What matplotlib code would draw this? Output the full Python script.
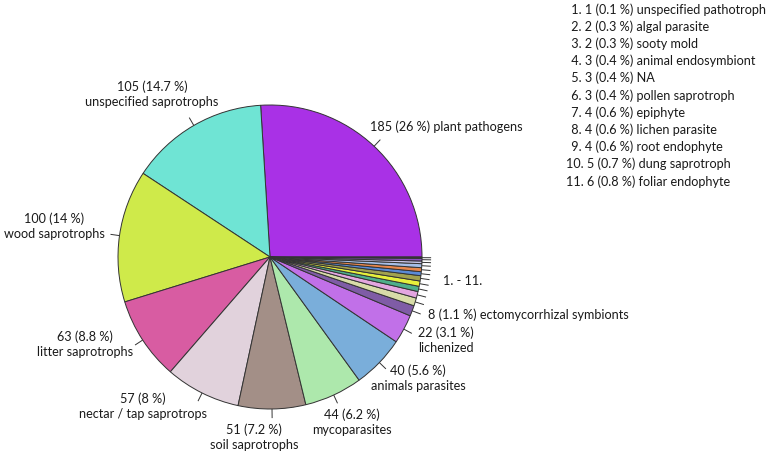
import matplotlib
matplotlib.use("Agg")
import matplotlib.pyplot as plt
import numpy as np

# ---------------- data ----------------
categories = ["plant pathogens", "unspecified saprotrophs", "wood saprotrophs",
              "litter saprotrophs", "nectar / tap saprotrops", "soil saprotrophs",
              "mycoparasites", "animals parasites", "lichenized",
              "ectomycorrhizal symbionts",
              "foliar endophyte", "dung saprotroph", "root endophyte",
              "lichen parasite", "epiphyte", "pollen saprotroph", "NA",
              "animal endosymbiont", "sooty mold", "algal parasite",
              "unspecified pathotroph"]
counts = [185, 105, 100, 63, 57, 51, 44, 40, 22, 8,
          6, 5, 4, 4, 4, 3, 3, 3, 2, 2, 1]
colors = ["#A931E6", "#6FE4D4", "#CFEA4A", "#D85CA2", "#E1D2DC", "#A38F87",
          "#ADE8AC", "#7AAEDA", "#C170E8", "#7F5CA6",
          "#D8DCA8", "#E3A6E0", "#4EAF8A", "#E6F03C", "#A2A24E", "#5A8BD6",
          "#E8874C", "#A6BEE6", "#C8C4E8", "#8A4FC0", "#3A3A3A"]
n_main = 10  # first ten categories labelled on the pie

# ---------------- layout ----------------
W, H = 767, 456
CX, CY, R = 270, 258, 152          # pixel coords of pie
FONT = "Lato"

# label block positions (pixel coords) for the main labels: (x, y, ha)
label_pos = [(370, 127, "left"), (152, 94.5, "center"), (54, 226.5, "center"),
             (85, 344.5, "center"), (143, 406, "center"), (254, 437.5, "center"),
             (352, 422.5, "center"), (418, 378.5, "center"), (446, 340, "center"),
             (428, 315, "left")]
small_label_pos = (443, 281)
legend_x, legend_y0, legend_dy = 568, 9.3, 17.2
line_gap_px = 16.5

fig = plt.figure(figsize=(W / 100, H / 100), dpi=100)
ax = fig.add_axes([0, 0, 1, 1])

def py(y):
    return H - y

total = sum(counts)
pct = [round(100 * c / total, 1) for c in counts]
def fmt(p):
    return f"{p:g}"

wedges, _ = ax.pie(counts, colors=colors, startangle=0, counterclock=True,
                   radius=R, center=(CX, py(CY)),
                   wedgeprops=dict(edgecolor="#333333", linewidth=0.7))
ax.set_xlim(0, W)
ax.set_ylim(0, H)
ax.set_aspect("equal")
ax.axis("off")

# leader ticks
for w in wedges:
    mid = np.deg2rad((w.theta1 + w.theta2) / 2)
    x0, y0 = CX + R * np.cos(mid), py(CY) + R * np.sin(mid)
    x1, y1 = CX + 1.06 * R * np.cos(mid), py(CY) + 1.06 * R * np.sin(mid)
    ax.plot([x0, x1], [y0, y1], color="#333333", lw=0.7, solid_capstyle="butt")

# font size fitted to reference width of the ectomycorrhizal label
probe = ax.text(0, 0, "8 (1.1 %) ectomycorrhizal symbionts", fontsize=10, family=FONT)
fig.canvas.draw()
wpx = probe.get_window_extent().width
probe.remove()
fs = 10 * 200 / wpx
ls = line_gap_px / (fs * 100 / 72)
tc = "#1a1a1a"

for i in range(n_main):
    x, y, ha = label_pos[i]
    head = f"{counts[i]} ({fmt(pct[i])} %)"
    if ha == "left":
        txt = f"{head} {categories[i]}"
    else:
        txt = f"{head}\n{categories[i]}"
    ax.text(x, py(y), txt, ha=ha, va="center", fontsize=fs, family=FONT,
            color=tc, linespacing=ls, multialignment="center")

ax.text(small_label_pos[0], py(small_label_pos[1]), f"1. - {len(counts) - n_main}.",
        ha="left", va="center", fontsize=fs, family=FONT, color=tc)

# legend list for the small categories (smallest first)
small = list(range(len(counts) - 1, n_main - 1, -1))
for k, idx in enumerate(small, start=1):
    prefix = " " if k < 10 else ""
    txt = f"{prefix}{k}. {counts[idx]} ({fmt(pct[idx])} %) {categories[idx]}"
    ax.text(legend_x - (0 if k < 10 else 2), py(legend_y0 + (k - 1) * legend_dy), txt,
            ha="left", va="center", fontsize=fs, family=FONT, color=tc)

fig.savefig("out.png", dpi=100)
